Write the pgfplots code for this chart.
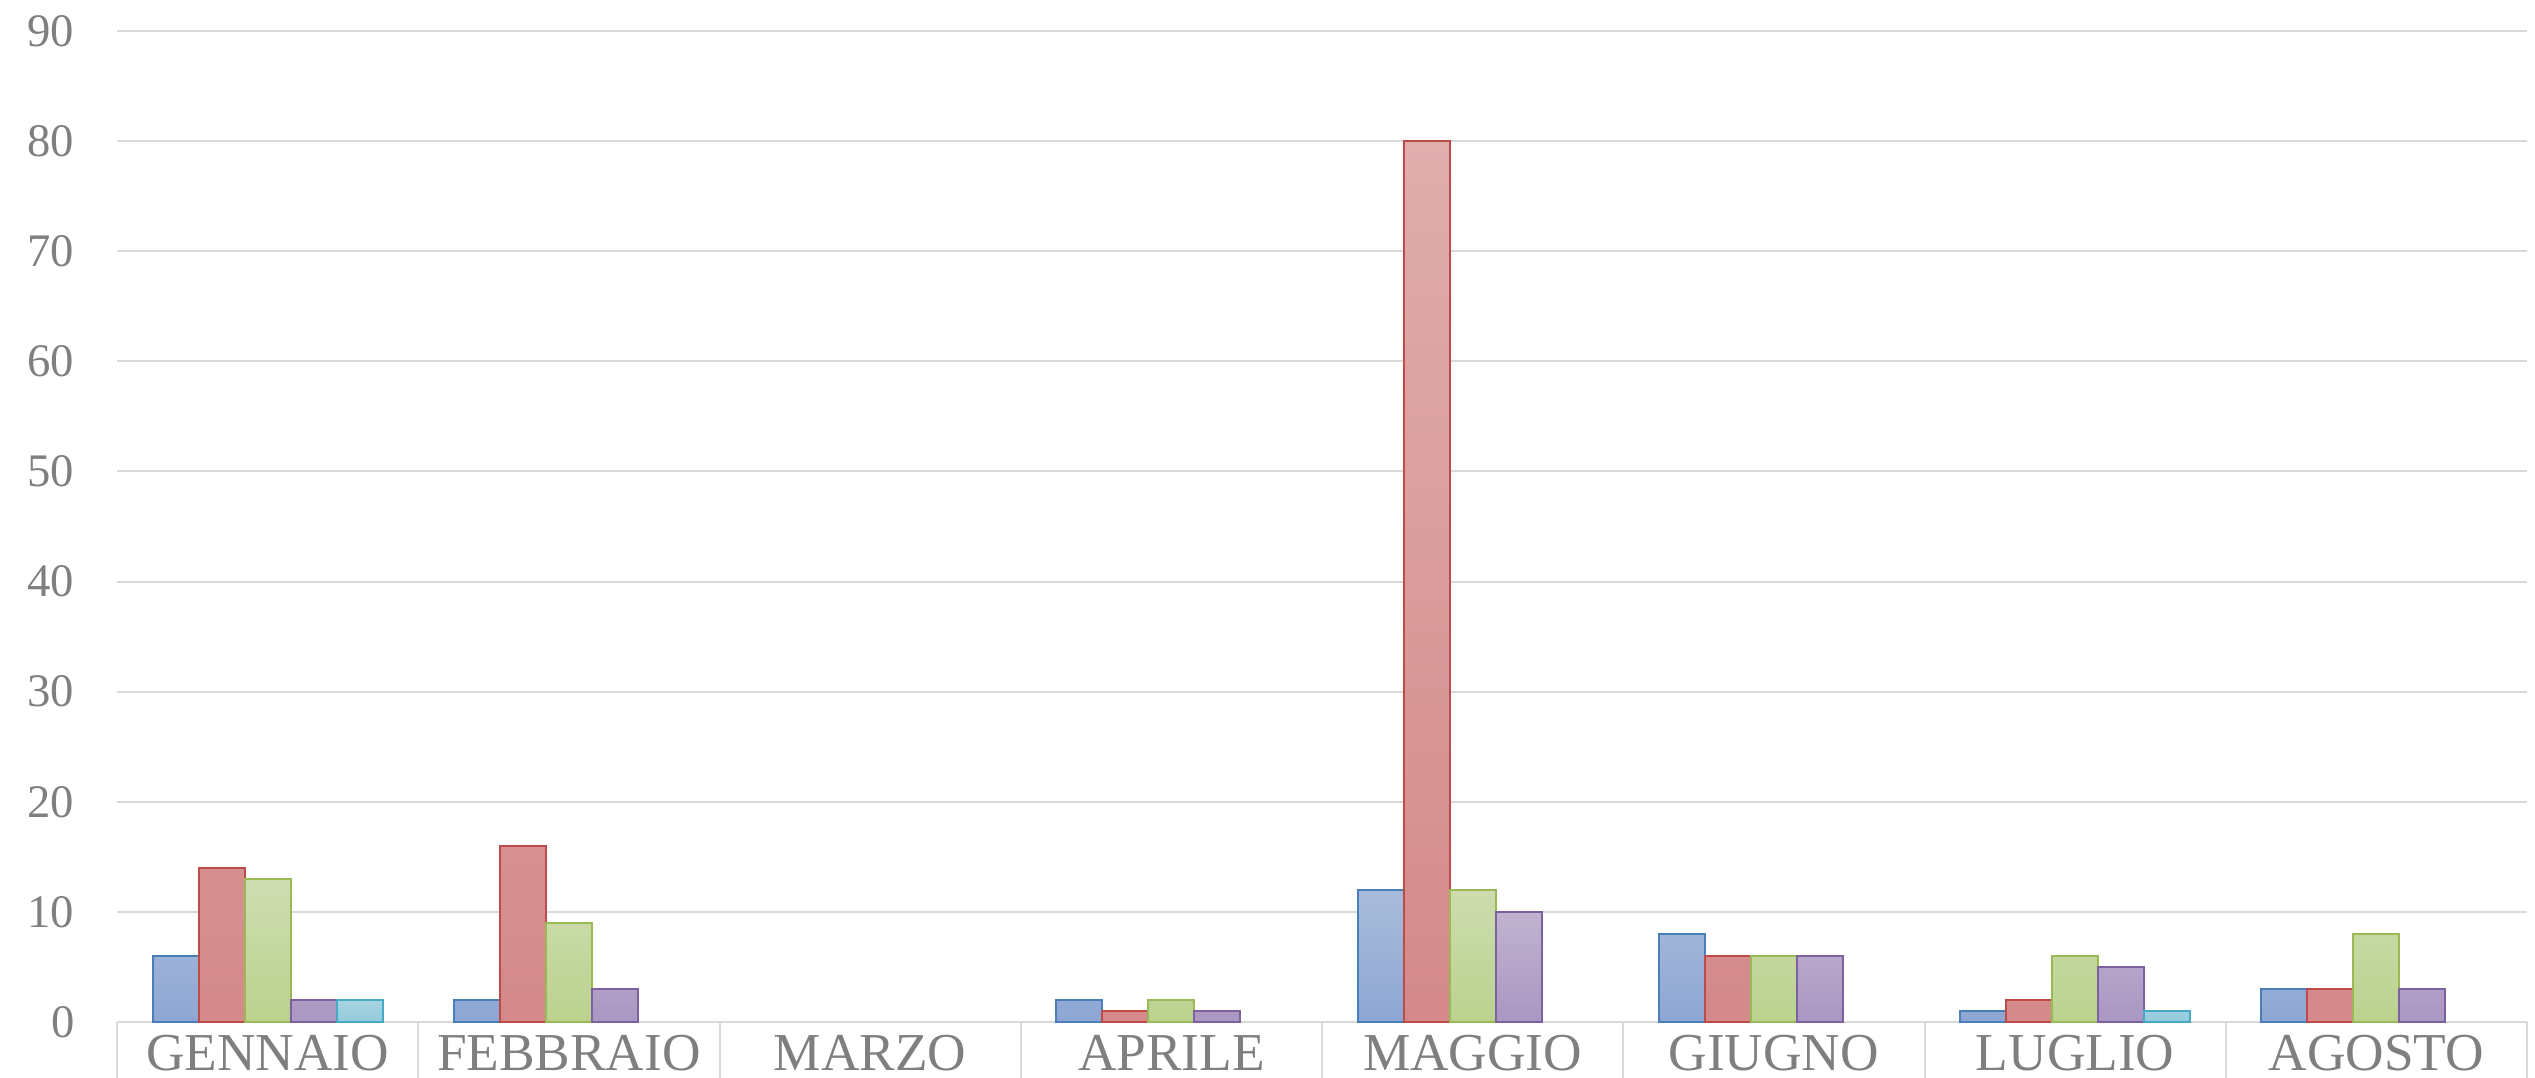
\documentclass[border=0pt]{standalone}
\usepackage{pgfplots}
\pgfplotsset{compat=1.18}
\usepackage{fontspec}
\setmainfont{Liberation Serif}
\definecolor{bB}{HTML}{4A7EBB}\definecolor{bT}{HTML}{A9BCDB}\definecolor{bD}{HTML}{8DA6D3}
\definecolor{rB}{HTML}{BE4B48}\definecolor{rT}{HTML}{DFAEAD}\definecolor{rD}{HTML}{D4898A}
\definecolor{gB}{HTML}{98B954}\definecolor{gT}{HTML}{CEDDB1}\definecolor{gD}{HTML}{BBD28E}
\definecolor{pB}{HTML}{7D60A0}\definecolor{pT}{HTML}{C0B3CF}\definecolor{pD}{HTML}{A996C2}
\definecolor{cB}{HTML}{46AAC5}\definecolor{cT}{HTML}{A6D4E1}\definecolor{cD}{HTML}{93CBDD}
\definecolor{gridc}{HTML}{D9D9D9}
\definecolor{labc}{HTML}{7F7F7F}
\begin{document}
\begin{tikzpicture}
\path[use as bounding box] (-35.1pt,-16.8pt) rectangle (725.4pt,306.6pt);
\begin{axis}[
  at={(0pt,0pt)}, anchor=south west,
  scale only axis, width=723pt, height=297.3pt,
  ybar=0pt, bar width=13.8pt,
  xmin=-0.5, xmax=7.5, ymin=0, ymax=90,
  ytick={0,10,...,90},
  xtick={0,...,7},
  xticklabels={GENNAIO,FEBBRAIO,MARZO,APRILE,MAGGIO,GIUGNO,LUGLIO,AGOSTO},
  extra x ticks={-0.5,0.5,...,7.5},
  extra x tick labels={},
  extra x tick style={grid=none, tick align=outside, major tick length=16.8pt,
     tick style={draw=gridc, line width=0.6pt}},
  major tick length=0pt,
  axis x line*=bottom, axis y line*=left,
  x axis line style={draw=gridc, line width=0.6pt, -},
  y axis line style={draw=none},
  ymajorgrids, grid style={draw=gridc, line width=0.6pt},
  tick style={draw=gridc, line width=0.6pt},
  xticklabel style={font=\fontsize{16}{18}\selectfont, text=labc, anchor=base, yshift=-14.5pt},
  yticklabel style={font=\fontsize{14}{16}\selectfont, text=labc, anchor=east, inner sep=0pt, xshift=-12.6pt},
  /pgf/number format/assume math mode=true,
  every axis plot/.append style={line width=0.6pt},
  clip=false,
]
\addplot[draw=bB, top color=bT, bottom color=bD] coordinates {(0,6) (1,2) (3,2) (4,12) (5,8) (6,1) (7,3)};
\addplot[draw=rB, top color=rT, bottom color=rD] coordinates {(0,14) (1,16) (3,1) (4,80) (5,6) (6,2) (7,3)};
\addplot[draw=gB, top color=gT, bottom color=gD] coordinates {(0,13) (1,9) (3,2) (4,12) (5,6) (6,6) (7,8)};
\addplot[draw=pB, top color=pT, bottom color=pD] coordinates {(0,2) (1,3) (3,1) (4,10) (5,6) (6,5) (7,3)};
\addplot[draw=cB, top color=cT, bottom color=cD] coordinates {(0,2) (6,1)};
\end{axis}
\end{tikzpicture}
\end{document}
